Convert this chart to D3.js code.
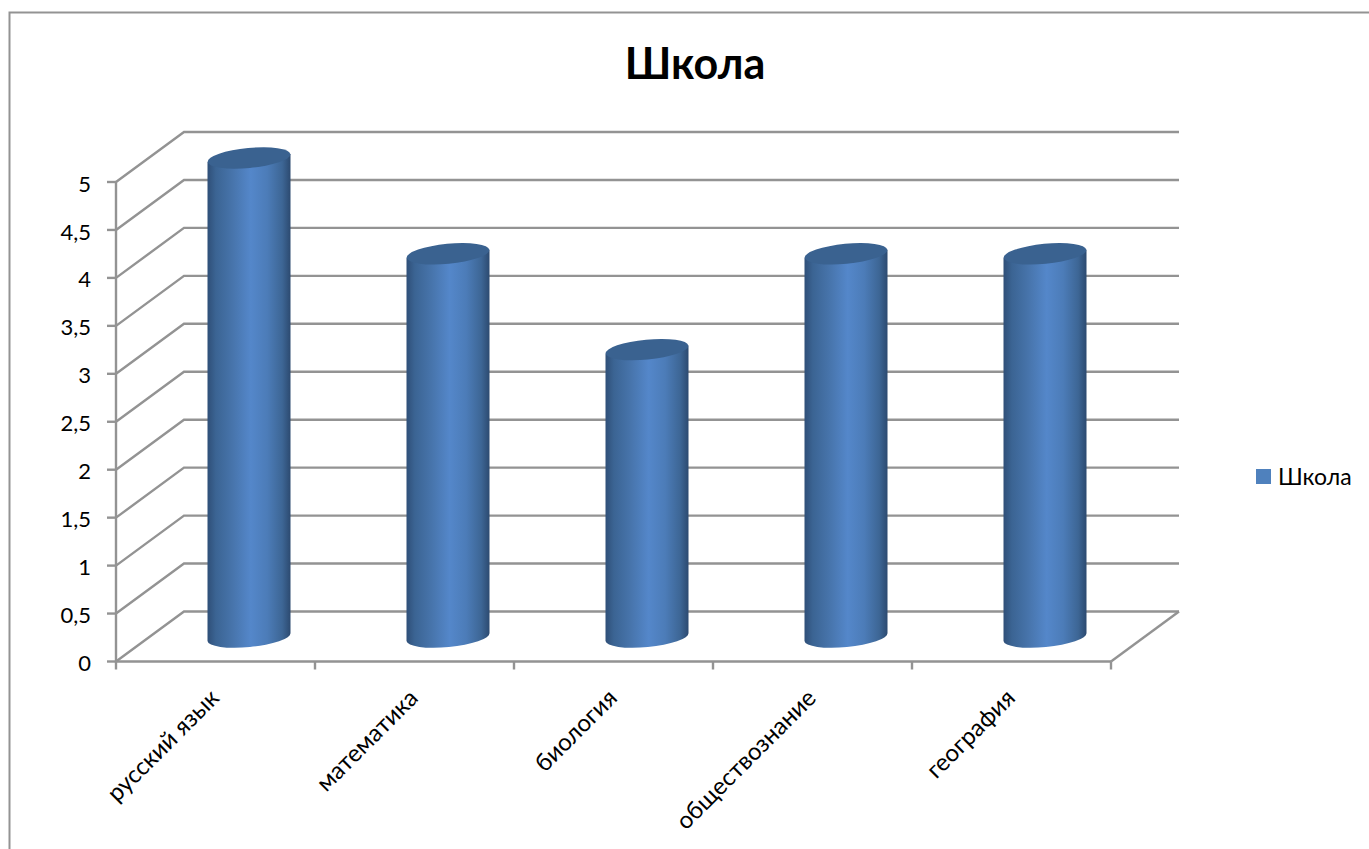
<!DOCTYPE html>
<html>
<head>
<meta charset="utf-8">
<script src="https://cdn.jsdelivr.net/npm/d3@7"></script>
<style>
html,body{margin:0;padding:0;background:#fff;overflow:hidden}
text{font-family:Lato,"Open Sans",sans-serif;fill:#000}
</style>
</head>
<body>
<svg id="c" width="1369" height="849"></svg>
<script>
const categories = ["русский язык","математика","биология","обществознание","география"];
const seriesName = "Школа";
const values = [5,4,3,4,4];
const yTicks = [0,0.5,1,1.5,2,2.5,3,3.5,4,4.5,5];

const svg = d3.select("#c");
const W = 1369, H = 849;
const depthX = 68, depthY = -50;
const x = d3.scaleBand().domain(categories).range([116,1111]);
const y = d3.scaleLinear().domain([0,5]).range([661.5,182]);
// the bars stand in the middle of the floor, half way to the back wall
const barDX = 33.5;
const barTop = d3.scaleLinear().domain([0,5]).range([637,158]);
const grey = "#939393";

const defs = svg.append("defs");
const g = defs.append("linearGradient").attr("id","cyl");
[[0,"#2f4f78"],[0.1,"#3b6493"],[0.3,"#4774ab"],[0.52,"#5487ca"],[0.72,"#4c7cb8"],[0.9,"#3d6695"],[1,"#2c4a70"]]
  .forEach(d=>g.append("stop").attr("offset",d[0]).attr("stop-color",d[1]));

// outer frame
svg.append("path").attr("d",`M9.5,${H}V12.5H${W}`).attr("fill","none").attr("stroke",grey).attr("stroke-width",2);

// gridlines and wall
const grid = svg.append("g").attr("fill","none").attr("stroke",grey).attr("stroke-width",2.4);
yTicks.forEach(t=>{
  grid.append("path").attr("d",`M${x.range()[0]},${y(t)}L${x.range()[0]+depthX},${y(t)+depthY}H${x.range()[1]+depthX}`);
});
// floor and axes
grid.append("path").attr("d",`M${x.range()[1]},${y(0)}L${x.range()[1]+depthX},${y(0)+depthY}`);
grid.append("path").attr("d",`M${x.range()[0]},${y(5)}V${y(0)}H${x.range()[1]}`);
yTicks.forEach(t=>grid.append("path").attr("d",`M107,${y(t)}H116`));
const xTickPos = categories.map(c=>x(c)).concat(x.range()[1]);
xTickPos.forEach(p=>grid.append("path").attr("d",`M${p},${y(0)}V${y(0)+8}`));

// y labels
svg.append("g").selectAll("text").data(yTicks).join("text")
  .attr("x",91).attr("y",d=>y(d)+4).attr("text-anchor","end").attr("dominant-baseline","middle")
  .attr("font-size",22).text(d=>String(d).replace(".",","));

// cylinders
const rx = 41.5, ry = 10, tilt = -5.5;
const bars = svg.append("g").selectAll("g").data(values).join("g");
bars.each(function(v,i){
  const cx = x(categories[i]) + x.bandwidth()/2 + barDX;
  const yTop = barTop(v), yBot = barTop(0);
  const dy = rx*Math.tan(-tilt*Math.PI/180);
  const sel = d3.select(this);
  sel.append("path")
    .attr("d",`M${cx-rx},${yTop+dy}L${cx-rx},${yBot+dy}A${rx},${ry} ${tilt} 0 0 ${cx+rx},${yBot-dy}L${cx+rx},${yTop-dy}Z`)
    .attr("fill","url(#cyl)");
  sel.append("ellipse").attr("cx",0).attr("cy",0).attr("rx",rx).attr("ry",ry)
    .attr("transform",`translate(${cx},${yTop}) rotate(${tilt})`)
    .attr("fill","#3a6290");
});

// x labels
svg.append("g").selectAll("text").data(categories).join("text")
  .attr("text-anchor","end").attr("font-size",24)
  .attr("transform",d=>`translate(${x(d)+x.bandwidth()/2+5},${y(0)+38}) rotate(-45)`)
  .text(d=>d);

// title
svg.append("text").attr("x",695).attr("y",79).attr("text-anchor","middle")
  .attr("font-size",43).attr("font-weight",700).text(seriesName);

// legend
svg.append("rect").attr("x",1256).attr("y",469).attr("width",15).attr("height",15).attr("fill","#4f81bd");
svg.append("text").attr("x",1278).attr("y",485).attr("font-size",23).text(seriesName);
</script>
</body>
</html>
